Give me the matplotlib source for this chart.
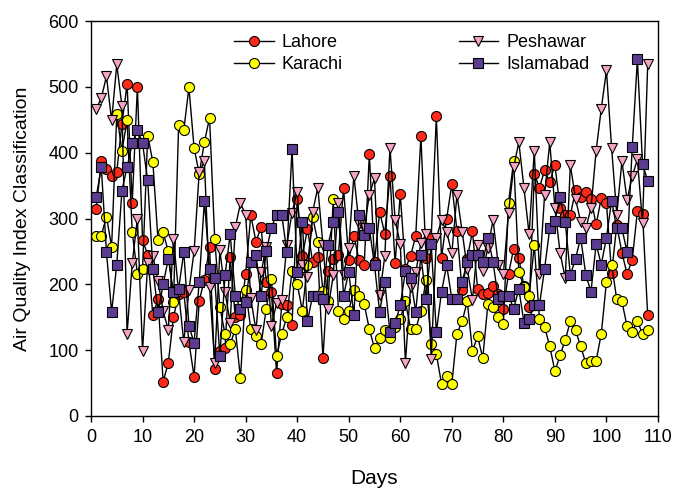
import matplotlib
matplotlib.use("Agg")
import matplotlib.pyplot as plt

plt.rcParams['font.family'] = ['Liberation Sans', 'DejaVu Sans']

days = list(range(1, 109))

lahore = [314, 388, 375, 365, 371, 444, 504, 324, 500, 267, 245, 153, 177, 52, 81, 150, 185, 188, 112, 60,
          175, 207, 257, 71, 99, 104, 241, 150, 153, 216, 305, 265, 287, 204, 188, 65, 170, 169, 138, 329,
          243, 284, 234, 241, 88, 220, 239, 245, 347, 237, 274, 237, 229, 398, 234, 310, 277, 365, 232, 337,
          224, 243, 274, 425, 240, 271, 455, 240, 300, 352, 281, 191, 239, 281, 193, 186, 187, 197, 185, 163,
          216, 254, 240, 197, 165, 367, 347, 373, 355, 382, 316, 305, 305, 343, 333, 341, 330, 291, 331, 323,
          217, 290, 248, 216, 237, 311, 307, 153]

karachi = [274, 274, 303, 257, 458, 403, 449, 279, 216, 223, 426, 386, 267, 279, 250, 173, 442, 434, 499, 407,
           368, 416, 453, 269, 165, 125, 109, 132, 57, 192, 132, 121, 109, 163, 208, 91, 125, 150, 221, 201,
           160, 229, 302, 265, 190, 174, 329, 160, 148, 160, 192, 182, 170, 132, 103, 118, 130, 118, 135, 148,
           174, 132, 132, 159, 207, 109, 94, 49, 61, 49, 125, 144, 174, 99, 121, 88, 170, 165, 150, 140,
           324, 388, 219, 196, 182, 260, 148, 135, 106, 68, 92, 115, 144, 130, 106, 80, 83, 84, 125, 204,
           230, 177, 174, 136, 128, 144, 125, 130]

peshawar = [466, 483, 516, 449, 534, 471, 125, 232, 300, 99, 232, 243, 205, 159, 131, 269, 188, 112, 191, 250,
            371, 387, 196, 81, 252, 188, 142, 287, 323, 306, 179, 130, 218, 257, 137, 171, 176, 260, 309, 341,
            230, 211, 310, 347, 260, 163, 214, 323, 214, 255, 365, 291, 285, 336, 361, 184, 243, 407, 298, 261,
            81, 196, 218, 263, 276, 87, 270, 298, 280, 247, 336, 280, 224, 176, 260, 221, 255, 298, 230, 215,
            309, 378, 416, 346, 276, 403, 216, 336, 416, 316, 248, 209, 381, 330, 295, 285, 316, 403, 467, 525,
            407, 306, 387, 328, 364, 390, 293, 534]

islamabad = [332, 378, 249, 158, 230, 342, 378, 414, 435, 414, 358, 224, 158, 200, 239, 188, 193, 249, 137, 111,
             204, 327, 224, 209, 91, 214, 276, 183, 162, 173, 234, 245, 183, 250, 286, 306, 306, 249, 405, 219,
             295, 144, 183, 183, 178, 260, 295, 310, 183, 219, 153, 306, 275, 285, 229, 158, 204, 127, 141, 168,
             220, 209, 158, 244, 178, 261, 127, 189, 229, 178, 178, 204, 234, 244, 245, 234, 271, 234, 178, 183,
             183, 163, 193, 142, 148, 168, 168, 224, 285, 296, 332, 295, 214, 239, 271, 214, 189, 261, 230, 271,
             327, 285, 285, 249, 408, 542, 383, 357]

series = [
    ("Lahore", lahore, 'o', '#ff2a1a'),
    ("Karachi", karachi, 'o', '#ffff00'),
    ("Peshawar", peshawar, 'v', '#f5a3c7'),
    ("Islamabad", islamabad, 's', '#5b3c91'),
]

W, H = 673, 488
fig = plt.figure(figsize=(W / 100, H / 100), dpi=100)
ax = fig.add_axes([91 / W, 1 - 416 / H, (658 - 91) / W, (416 - 21) / H])

for name, vals, mk, col in series:
    ax.plot(days, vals, color='black', linewidth=1.0, marker=mk, markersize=7.2,
            markerfacecolor=col, markeredgecolor='black', markeredgewidth=0.8, label=name)

ax.set_xlim(0, 110)
ax.set_ylim(0, 600)
ax.set_xticks(range(0, 111, 10))
ax.set_yticks(range(0, 601, 100))
ax.tick_params(direction='out', length=4, width=1, labelsize=13, pad=5, top=False, right=False)
for s in ax.spines.values():
    s.set_linewidth(1.0)

ax.set_xlabel("Days", fontsize=15, labelpad=17)
ax.set_ylabel("Air Quality Index Classification", fontsize=14, labelpad=12)

ax.legend(loc='upper left', bbox_to_anchor=(234 / W, 1 - 34 / H), bbox_transform=fig.transFigure,
          ncol=2, frameon=False, fontsize=13, borderpad=0, borderaxespad=0,
          handlelength=2.2, handletextpad=0.45, columnspacing=6.4, labelspacing=0.3)

fig.savefig("out.png", dpi=100)
